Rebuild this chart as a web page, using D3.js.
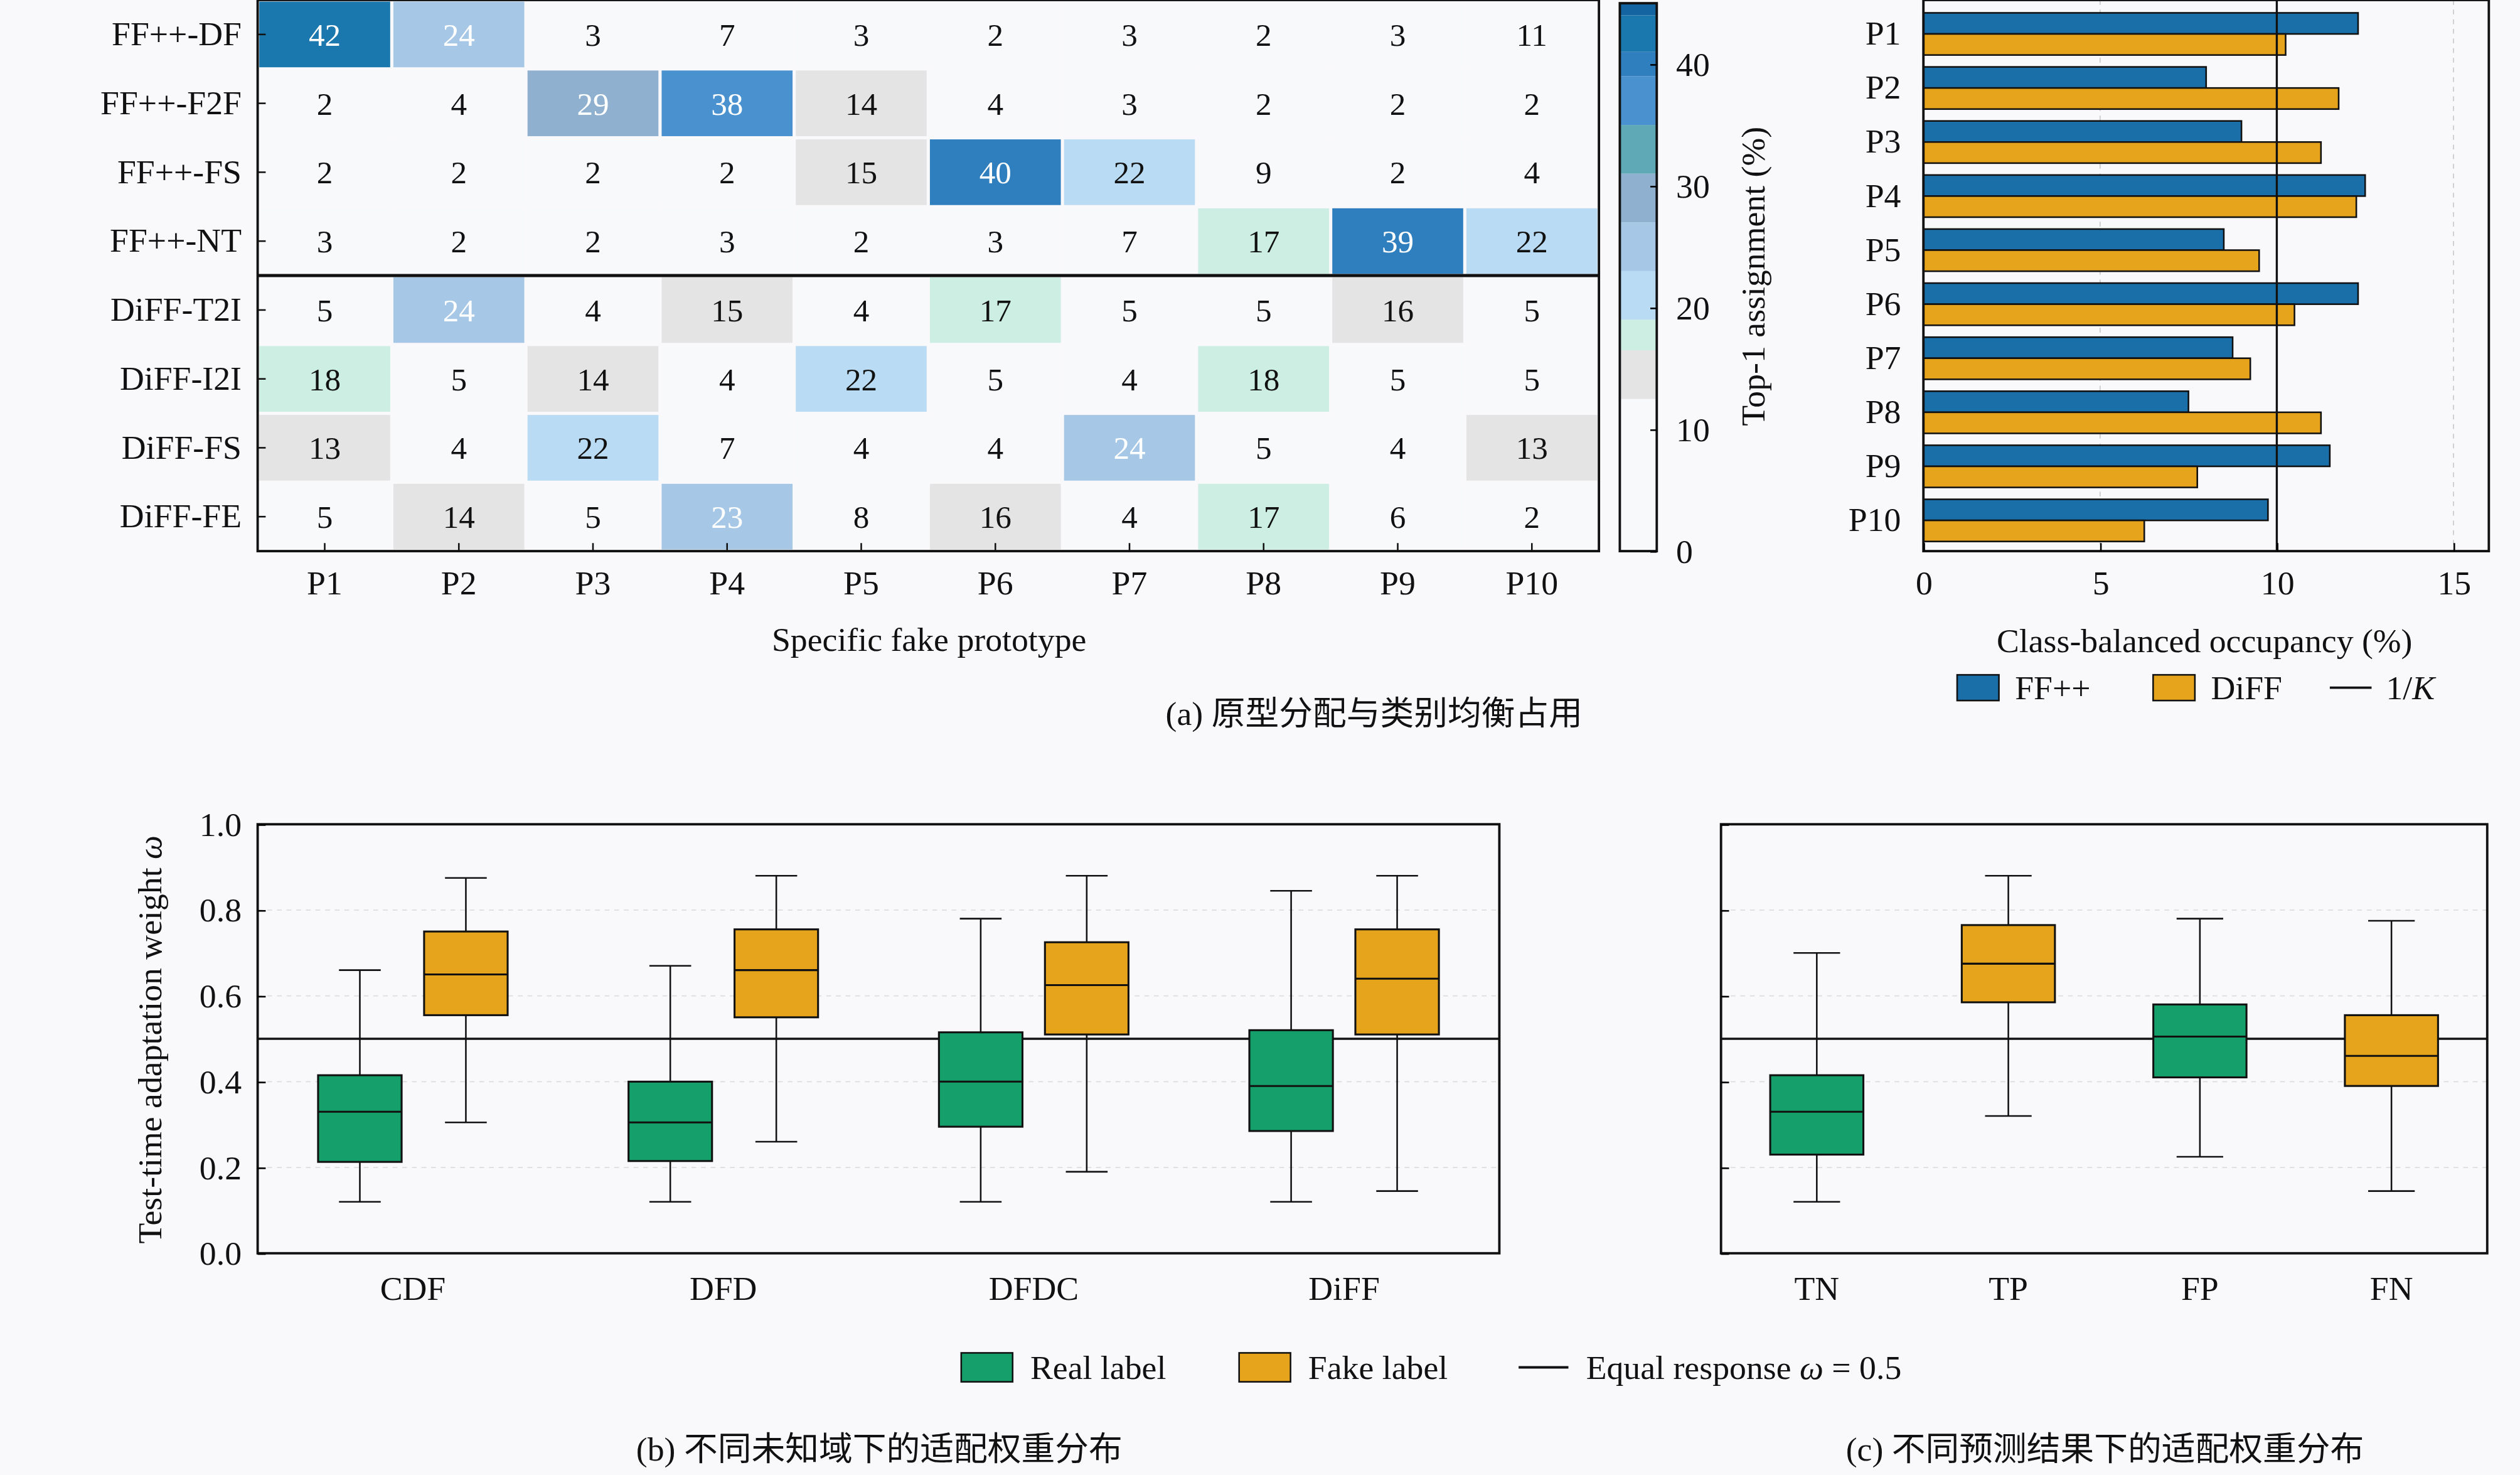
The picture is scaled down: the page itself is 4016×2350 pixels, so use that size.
<!DOCTYPE html>
<html lang="en">
<head>
<meta charset="utf-8">
<script src="https://d3js.org/d3.v7.min.js"></script>
<style>
  body { margin: 0; background: #f9f9fb; }
  text { font-family: "Liberation Serif", "DejaVu Serif", serif; fill: #111; }
  .cjk { font-family: "Noto Sans CJK SC", sans-serif; }
</style>
</head>
<body>
<div id="chart"></div>
<script>
// ---- data ----
var rows = ["FF++-DF", "FF++-F2F", "FF++-FS", "FF++-NT", "DiFF-T2I", "DiFF-I2I", "DiFF-FS", "DiFF-FE"];
var protos = ["P1", "P2", "P3", "P4", "P5", "P6", "P7", "P8", "P9", "P10"];
var assign = [
  [42, 24, 3, 7, 3, 2, 3, 2, 3, 11],
  [2, 4, 29, 38, 14, 4, 3, 2, 2, 2],
  [2, 2, 2, 2, 15, 40, 22, 9, 2, 4],
  [3, 2, 2, 3, 2, 3, 7, 17, 39, 22],
  [5, 24, 4, 15, 4, 17, 5, 5, 16, 5],
  [18, 5, 14, 4, 22, 5, 4, 18, 5, 5],
  [13, 4, 22, 7, 4, 4, 24, 5, 4, 13],
  [5, 14, 5, 23, 8, 16, 4, 17, 6, 2]
];
var occFF = [12.3, 8.0, 9.0, 12.5, 8.5, 12.3, 8.75, 7.5, 11.5, 9.75];
var occDiFF = [10.25, 11.75, 11.25, 12.25, 9.5, 10.5, 9.25, 11.25, 7.75, 6.25];
var domains = ["CDF", "DFD", "DFDC", "DiFF"];
// [low whisker, q1, median, q3, high whisker]
var realBox = [[0.12, 0.213, 0.33, 0.415, 0.66], [0.12, 0.215, 0.305, 0.40, 0.67], [0.12, 0.295, 0.40, 0.515, 0.78], [0.12, 0.285, 0.39, 0.52, 0.845]];
var fakeBox = [[0.305, 0.555, 0.65, 0.75, 0.875], [0.26, 0.55, 0.66, 0.755, 0.88], [0.19, 0.51, 0.625, 0.725, 0.88], [0.145, 0.51, 0.64, 0.755, 0.88]];
var outcomes = ["TN", "TP", "FP", "FN"];
var outcomeLabel = ["real", "fake", "real", "fake"];
var outcomeBox = [[0.12, 0.23, 0.33, 0.415, 0.70], [0.32, 0.585, 0.675, 0.765, 0.88], [0.225, 0.41, 0.505, 0.58, 0.78], [0.145, 0.39, 0.46, 0.555, 0.775]];

var BLUE = "#1b6fa8", ORANGE = "#e6a31c", GREEN = "#15a06b";

var svg = d3.select("#chart").append("svg")
  .attr("width", 4016).attr("height", 2350)
  .attr("viewBox", "0 0 1568 918");
svg.append("rect").attr("width", 1568).attr("height", 918).attr("fill", "#f9f9fb");

// ---- (a) heatmap ----
var hx = d3.scaleBand().domain(protos).range([160, 995]);
var hy = d3.scaleBand().domain(rows).range([0, 343]);
var color = d3.scaleThreshold()
  .domain([12.5, 16.5, 19, 23, 27, 31, 35, 39, 41, 44])
  .range(["#f8f9fb", "#e4e4e4", "#cdeee2", "#b9dbf3", "#a6c8e6", "#8fb1cf", "#5ea9b5", "#4a91d0", "#2f7fbf", "#1b78ae", "#1364a0"]);

var hm = svg.append("g");
assign.forEach(function(r, i) {
  r.forEach(function(v, j) {
    hm.append("rect").attr("x", hx(protos[j]) + 1).attr("y", hy(rows[i]) + 1)
      .attr("width", hx.bandwidth() - 2).attr("height", hy.bandwidth() - 2)
      .attr("fill", color(v));
    hm.append("text").attr("x", hx(protos[j]) + hx.bandwidth() / 2).attr("y", hy(rows[i]) + hy.bandwidth() / 2)
      .attr("dy", "0.35em").attr("text-anchor", "middle").attr("font-size", 20)
      .style("fill", v >= 23 ? "#fff" : "#111").text(v);
  });
});
hm.append("rect").attr("x", 160).attr("y", 0).attr("width", 835).attr("height", 343)
  .attr("fill", "none").attr("stroke", "#111").attr("stroke-width", 1.5);
hm.append("line").attr("x1", 160).attr("x2", 995).attr("y1", hy(rows[4])).attr("y2", hy(rows[4]))
  .attr("stroke", "#111").attr("stroke-width", 2);
var hxa = svg.append("g").attr("transform", "translate(0,343)")
  .call(d3.axisBottom(hx).tickSize(-5).tickPadding(12));
var hya = svg.append("g").attr("transform", "translate(160,0)")
  .call(d3.axisLeft(hy).tickSize(-5).tickPadding(10));
[hxa, hya].forEach(function(a) {
  a.select(".domain").remove();
  a.selectAll("text").attr("font-size", 21).style("font-family", "Liberation Serif, serif");
  a.selectAll("line").attr("stroke", "#111");
});
svg.append("text").attr("x", 578).attr("y", 405).attr("text-anchor", "middle").attr("font-size", 21).text("Specific fake prototype");

// colorbar
var cy = d3.scaleLinear().domain([0, 45]).range([343, 2]);
var cb = svg.append("g");
var edges = [0].concat(color.domain()).concat([45]);
for (var k = 0; k < edges.length - 1; k++) {
  cb.append("rect").attr("x", 1008).attr("width", 23)
    .attr("y", cy(edges[k + 1])).attr("height", cy(edges[k]) - cy(edges[k + 1]))
    .attr("fill", color.range()[k]);
}
cb.append("rect").attr("x", 1008).attr("y", 2).attr("width", 23).attr("height", 341)
  .attr("fill", "none").attr("stroke", "#111").attr("stroke-width", 1.5);
var cba = svg.append("g").attr("transform", "translate(1031,0)")
  .call(d3.axisRight(cy).tickValues([0, 10, 20, 30, 40]).tickSize(-4).tickPadding(12));
cba.select(".domain").remove();
cba.selectAll("text").attr("font-size", 21).style("font-family", "Liberation Serif, serif");
svg.append("text").attr("transform", "translate(1098,172) rotate(-90)").attr("text-anchor", "middle")
  .attr("font-size", 21).text("Top-1 assignment (%)");

// ---- (a) occupancy bars ----
var bx = d3.scaleLinear().domain([0, 16]).range([1197, 1549]);
var by = d3.scaleBand().domain(protos).range([8, 337]).paddingInner(0.22);
var bg = svg.append("g");
[5, 15].forEach(function(t) {
  bg.append("line").attr("x1", bx(t)).attr("x2", bx(t)).attr("y1", 0).attr("y2", 343)
    .attr("stroke", "#ccc").attr("stroke-dasharray", "3,3").attr("stroke-width", 0.7);
});
protos.forEach(function(p, i) {
  var h = by.bandwidth() / 2;
  bg.append("rect").attr("x", bx(0)).attr("y", by(p)).attr("width", bx(occFF[i]) - bx(0)).attr("height", h)
    .attr("fill", BLUE).attr("stroke", "#111").attr("stroke-width", 1);
  bg.append("rect").attr("x", bx(0)).attr("y", by(p) + h).attr("width", bx(occDiFF[i]) - bx(0)).attr("height", h)
    .attr("fill", ORANGE).attr("stroke", "#111").attr("stroke-width", 1);
});
bg.append("line").attr("x1", bx(10)).attr("x2", bx(10)).attr("y1", 0).attr("y2", 343).attr("stroke", "#111").attr("stroke-width", 1.3);
bg.append("rect").attr("x", 1197).attr("y", 0).attr("width", 352).attr("height", 343)
  .attr("fill", "none").attr("stroke", "#111").attr("stroke-width", 1.5);
var bxa = svg.append("g").attr("transform", "translate(0,343)")
  .call(d3.axisBottom(bx).tickValues([0, 5, 10, 15]).tickSize(-5).tickPadding(12));
var bya = svg.append("g").attr("transform", "translate(1197,0)")
  .call(d3.axisLeft(by).tickSize(0).tickPadding(14));
[bxa, bya].forEach(function(a) {
  a.select(".domain").remove();
  a.selectAll("text").attr("font-size", 21).style("font-family", "Liberation Serif, serif");
});
svg.append("text").attr("x", 1372).attr("y", 406).attr("text-anchor", "middle").attr("font-size", 21).text("Class-balanced occupancy (%)");
var lg = svg.append("g").attr("transform", "translate(0,428)");
lg.append("rect").attr("x", 1218).attr("y", -8).attr("width", 26).attr("height", 16).attr("fill", BLUE).attr("stroke", "#111");
lg.append("text").attr("x", 1254).attr("dy", "0.35em").attr("font-size", 21).text("FF++");
lg.append("rect").attr("x", 1340).attr("y", -8).attr("width", 26).attr("height", 16).attr("fill", ORANGE).attr("stroke", "#111");
lg.append("text").attr("x", 1376).attr("dy", "0.35em").attr("font-size", 21).text("DiFF");
lg.append("line").attr("x1", 1450).attr("x2", 1476).attr("stroke", "#111").attr("stroke-width", 1.5);
lg.append("text").attr("x", 1485).attr("dy", "0.35em").attr("font-size", 21).html("1/<tspan font-style='italic'>K</tspan>");

svg.append("text").attr("x", 855).attr("y", 451).attr("text-anchor", "middle").attr("font-size", 21)
  .html("(a) <tspan class='cjk'>原型分配与类别均衡占用</tspan>");

// ---- (b), (c) box plots ----
var wy = d3.scaleLinear().domain([0, 1]).range([780, 513]);
function panel(x0, x1, labels, showLabels) {
  var g = svg.append("g");
  var sx = d3.scaleBand().domain(labels).range([x0, x1]);
  [0.2, 0.4, 0.6, 0.8].forEach(function(t) {
    g.append("line").attr("x1", x0).attr("x2", x1).attr("y1", wy(t)).attr("y2", wy(t))
      .attr("stroke", "#ddd").attr("stroke-dasharray", "3,3").attr("stroke-width", 0.7);
  });
  g.append("line").attr("x1", x0).attr("x2", x1).attr("y1", wy(0.5)).attr("y2", wy(0.5)).attr("stroke", "#111").attr("stroke-width", 1.3);
  var ya = svg.append("g").attr("transform", "translate(" + x0 + ",0)")
    .call(d3.axisLeft(wy).tickValues([0, 0.2, 0.4, 0.6, 0.8, 1.0]).tickFormat(showLabels ? d3.format(".1f") : "").tickSize(-5).tickPadding(10));
  var xa = svg.append("g").attr("transform", "translate(0,780)")
    .call(d3.axisBottom(sx).tickSize(0).tickPadding(14));
  [ya, xa].forEach(function(a) {
    a.select(".domain").remove();
    a.selectAll("text").attr("font-size", 21).style("font-family", "Liberation Serif, serif");
  });
  return { g: g, sx: sx, frame: function() {
    g.append("rect").attr("x", x0).attr("y", 513).attr("width", x1 - x0).attr("height", 267)
      .attr("fill", "none").attr("stroke", "#111").attr("stroke-width", 1.5);
  } };
}
function box(g, cx, w, s, fill) {
  g.append("line").attr("x1", cx).attr("x2", cx).attr("y1", wy(s[0])).attr("y2", wy(s[1])).attr("stroke", "#111");
  g.append("line").attr("x1", cx).attr("x2", cx).attr("y1", wy(s[3])).attr("y2", wy(s[4])).attr("stroke", "#111");
  [s[0], s[4]].forEach(function(v) {
    g.append("line").attr("x1", cx - w / 4).attr("x2", cx + w / 4).attr("y1", wy(v)).attr("y2", wy(v)).attr("stroke", "#111");
  });
  g.append("rect").attr("x", cx - w / 2).attr("y", wy(s[3])).attr("width", w).attr("height", wy(s[1]) - wy(s[3]))
    .attr("fill", fill).attr("stroke", "#111").attr("stroke-width", 1.2);
  g.append("line").attr("x1", cx - w / 2).attr("x2", cx + w / 2).attr("y1", wy(s[2])).attr("y2", wy(s[2])).attr("stroke", "#111").attr("stroke-width", 1.2);
}
var pb = panel(160, 933, domains, true);
domains.forEach(function(d, i) {
  var c = pb.sx(d) + pb.sx.bandwidth() / 2;
  box(pb.g, c - 33, 52, realBox[i], GREEN);
  box(pb.g, c + 33, 52, fakeBox[i], ORANGE);
});
pb.frame();
var pc = panel(1071, 1548, outcomes, false);
outcomes.forEach(function(d, i) {
  var c = pc.sx(d) + pc.sx.bandwidth() / 2;
  box(pc.g, c, 58, outcomeBox[i], outcomeLabel[i] === "real" ? GREEN : ORANGE);
});
pc.frame();
svg.append("text").attr("transform", "translate(100,647) rotate(-90)").attr("text-anchor", "middle")
  .attr("font-size", 21).html("Test-time adaptation weight <tspan font-style='italic'>ω</tspan>");

var lb = svg.append("g").attr("transform", "translate(0,851)");
lb.append("rect").attr("x", 598).attr("y", -9).attr("width", 32).attr("height", 18).attr("fill", GREEN).attr("stroke", "#111");
lb.append("text").attr("x", 641).attr("dy", "0.35em").attr("font-size", 21).text("Real label");
lb.append("rect").attr("x", 771).attr("y", -9).attr("width", 32).attr("height", 18).attr("fill", ORANGE).attr("stroke", "#111");
lb.append("text").attr("x", 814).attr("dy", "0.35em").attr("font-size", 21).text("Fake label");
lb.append("line").attr("x1", 945).attr("x2", 976).attr("stroke", "#111").attr("stroke-width", 1.5);
lb.append("text").attr("x", 987).attr("dy", "0.35em").attr("font-size", 21)
  .html("Equal response <tspan font-style='italic'>ω</tspan> = 0.5");

svg.append("text").attr("x", 547).attr("y", 909).attr("text-anchor", "middle").attr("font-size", 21)
  .html("(b) <tspan class='cjk'>不同未知域下的适配权重分布</tspan>");
svg.append("text").attr("x", 1310).attr("y", 909).attr("text-anchor", "middle").attr("font-size", 21)
  .html("(c) <tspan class='cjk'>不同预测结果下的适配权重分布</tspan>");
</script>
</body>
</html>
